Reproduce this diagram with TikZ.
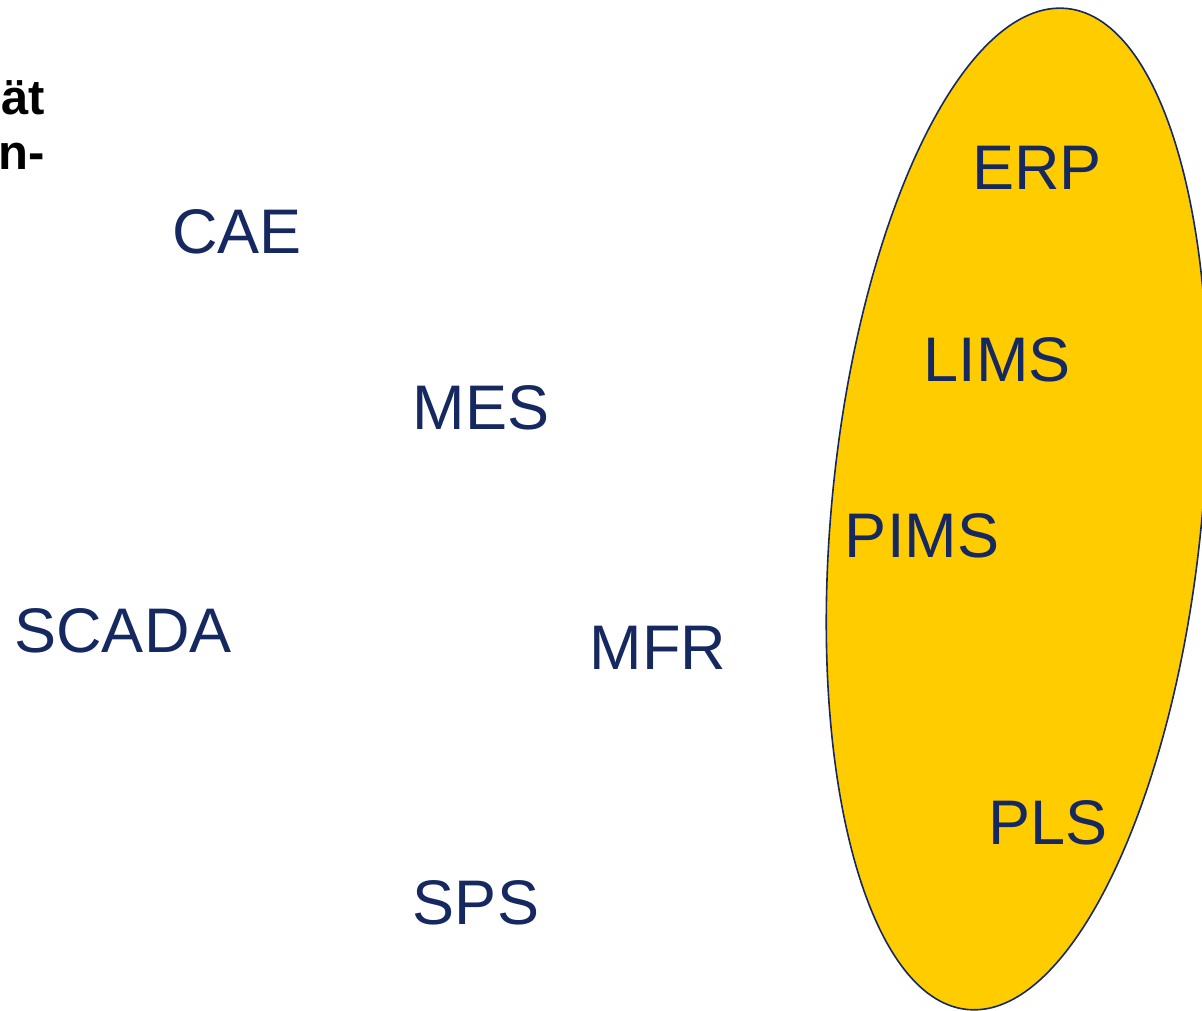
\documentclass[tikz,border=0pt]{standalone}
\usepackage{fontspec}
\setmainfont{Liberation Sans}
\definecolor{navy}{HTML}{15285F}
\definecolor{gold}{HTML}{FFCC00}
\begin{document}
\begin{tikzpicture}[x=1pt,y=1pt,
  sys/.style={inner sep=0pt, text=navy, font=\fontsize{63}{72}\selectfont},
  head/.style={inner sep=0pt, anchor=base east, text=black, font=\fontsize{49}{58}\selectfont\bfseries}]
\useasboundingbox (0,0) rectangle (1202,1011);
% system group
\draw[navy, line width=1.6pt, fill=gold] (1017,502) ellipse [x radius=185, y radius=503, rotate=-5.68];
% heading fragments at the left edge
\node[head] (h1) at (45,896) {ät};
\node[head] (h2) at (45,841) {n-};
% systems
\node[sys] (erp)   at (1037,843) {ERP};
\node[sys] (lims)  at (997,651)  {LIMS};
\node[sys] (pims)  at (922,475)  {PIMS};
\node[sys] (pls)   at (1048,188) {PLS};
\node[sys] (cae)   at (237,779)  {CAE};
\node[sys] (mes)   at (481,603)  {MES};
\node[sys] (scada) at (123,380)  {SCADA};
\node[sys] (mfr)   at (658,363)  {MFR};
\node[sys] (sps)   at (476,108)  {SPS};
\end{tikzpicture}
\end{document}
